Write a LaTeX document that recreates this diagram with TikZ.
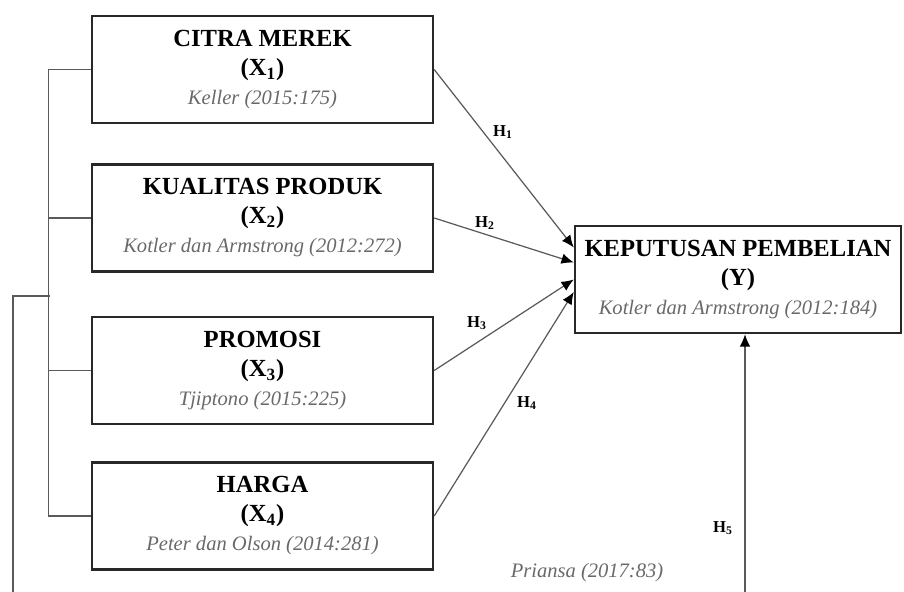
\documentclass[tikz,border=0pt]{standalone}
\usepackage{fontspec}
\setmainfont{Liberation Serif}
\usetikzlibrary{arrows.meta}

\definecolor{boxline}{RGB}{40,40,40}
\definecolor{wire}{RGB}{90,90,90}
\definecolor{srcgray}{RGB}{105,105,105}

\newcommand\refsrc[1]{{\fontsize{11.7}{13}\selectfont\mdseries\color{srcgray}\itshape #1}}
\newcommand\hlabel[1]{{\fontsize{9.5}{10}\selectfont\bfseries H\textsubscript{#1}}}

\tikzset{
	varbox/.style={draw=boxline, line width=1.4pt, minimum width=6.82cm, minimum height=2.14cm,
		inner sep=0pt, align=center, font=\fontsize{14}{16.5}\selectfont\bfseries},
	link/.style={draw=wire, line width=0.7pt},
	hyp/.style={link, -{Latex[length=7pt,width=6pt,black]}}
}

\begin{document}
\begin{tikzpicture}[x=0.02cm, y=-0.02cm]
		\useasboundingbox (0, 0) rectangle (904, 592);
		\clip (0, 0) rectangle (904, 592);

		% variabel bebas
		\node[varbox] (x1) at (262.5, 69.5) {CITRA MEREK\\(X\textsubscript{1})\\\refsrc{Keller (2015:175)}};
		\node[varbox] (x2) at (262.5, 218) {KUALITAS PRODUK\\(X\textsubscript{2})\\\refsrc{Kotler dan Armstrong (2012:272)}};
		\node[varbox] (x3) at (262.5, 370.5) {PROMOSI\\(X\textsubscript{3})\\\refsrc{Tjiptono (2015:225)}};
		\node[varbox] (x4) at (262.5, 516) {HARGA\\(X\textsubscript{4})\\\refsrc{Peter dan Olson (2014:281)}};

		% variabel terikat
		\node[varbox, minimum width=6.52cm] (y) at (738, 279.5) {KEPUTUSAN PEMBELIAN\\(Y)\\\refsrc{Kotler dan Armstrong (2012:184)}};

		% kurung simultan
		\draw[link] (x1.west) -- ++(-42, 0) coordinate (b1) |- (x4.west);
		\draw[link] (x2.west) -- (x2.west -| b1);
		\draw[link] (x3.west) -- (x3.west -| b1);
		\coordinate (j) at (50, 296);
		\coordinate (low) at (745, 620);

		% hipotesis parsial
		\draw[hyp] (x1.east) -- ([yshift=0.64cm]y.west);
		\draw[hyp] (x2.east) -- ([yshift=0.34cm]y.west);
		\draw[hyp] (x3.east) -- (y.west);
		\draw[hyp] (x4.east) -- ([yshift=-0.25cm]y.west);

		\node at (503, 132) {\hlabel{1}};
		\node at (485, 223) {\hlabel{2}};
		\node at (477, 323) {\hlabel{3}};
		\node at (527, 403) {\hlabel{4}};
		\node at (723, 528) {\hlabel{5}};

		% hipotesis simultan
		\draw[hyp] (j) -- ++(-37, 0) |- (low) -- (low |- y.south);
		\node at (587, 573) {\refsrc{Priansa (2017:83)}};
\end{tikzpicture}
\end{document}
